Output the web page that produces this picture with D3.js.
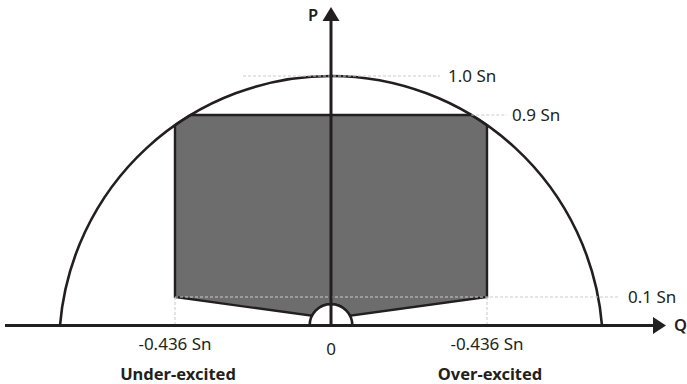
<!DOCTYPE html>
<html>
<head>
<meta charset="utf-8">
<script src="https://cdn.jsdelivr.net/npm/d3@7"></script>
<style>
  html, body { margin: 0; padding: 0; background: #fff; }
  svg { display: block; }
  text { font-family: "Noto Sans", "DejaVu Sans", sans-serif; fill: #231f20; }
</style>
</head>
<body>
<svg id="chart" width="687" height="384"></svg>
<script>
// ---- data ----
const pLevels = [1.0, 0.9, 0.1];
const pLabels = ["1.0 Sn", "0.9 Sn", "0.1 Sn"];
const qTicks = [-0.436, 0, 0.436];
const qLabels = ["-0.436 Sn", "0", "-0.436 Sn"];
const regionQ = [-0.436, 0.436];
const regionLabels = ["Under-excited", "Over-excited"];
const qLimit = 0.436;      // reactive power limit (Sn)
const pMax = 0.9;          // upper active power limit
const pMin = 0.1;          // lower active power limit
const holeP = 0.075;       // radius of small excluded semicircle
const slantTargetP = 0.025;// bottom edge slopes toward this P at Q=0

// ---- scales (schematic, piecewise) ----
const x = d3.scaleLinear().domain([-1, -0.436, 0, 0.436, 1]).range([60, 175, 331, 487, 602]);
const y = d3.scaleLinear().domain([0, 0.1, 0.9, 1.0]).range([325.5, 297, 115, 76]);

const svg = d3.select("#chart");
const ink = "#231f20";
const dashCol = "#cccccc";

// capability circle through (-1,0), (0,1), (1,0)
const cx = x(0);
const y0 = y(0), y1 = y(1);
const hx = x(1) - cx;
const cy = (hx * hx + y0 * y0 - y1 * y1) / (2 * (y0 - y1));
const R = cy - y1;

// gray operating region
const yTop = y(pMax);
const dxTop = Math.sqrt(R * R - (cy - yTop) * (cy - yTop));
const xL = x(-qLimit), xR = x(qLimit);
const ySideR = cy - Math.sqrt(R * R - (xR - cx) * (xR - cx));
const ySideL = cy - Math.sqrt(R * R - (xL - cx) * (xL - cx));
const yLow = y(pMin);
const r = y(0) - y(holeP);

function hit(ax, ay, bx, by) {
  const dx = bx - ax, dy = by - ay;
  const fx = ax - cx, fy = ay - y0;
  const a = dx * dx + dy * dy, b = 2 * (fx * dx + fy * dy), c = fx * fx + fy * fy - r * r;
  const t = (-b - Math.sqrt(b * b - 4 * a * c)) / (2 * a);
  return [ax + t * dx, ay + t * dy];
}
const hR = hit(xR, yLow, cx, y(slantTargetP));
const hL = hit(xL, yLow, cx, y(slantTargetP));

const regionD = `M${cx - dxTop},${yTop} L${cx + dxTop},${yTop} A${R},${R} 0 0 1 ${xR},${ySideR} L${xR},${yLow} L${hR[0]},${hR[1]} A${r},${r} 0 0 0 ${hL[0]},${hL[1]} L${xL},${yLow} L${xL},${ySideL} A${R},${R} 0 0 1 ${cx - dxTop},${yTop} Z`;

svg.append("path")
  .attr("d", regionD)
  .attr("fill", "#6d6d6d")
  .attr("stroke", ink)
  .attr("stroke-width", 2.4)
  .attr("stroke-linejoin", "miter");

// small excluded semicircle at the origin
svg.append("path")
  .attr("d", `M${cx - r},${y0} A${r},${r} 0 0 1 ${cx + r},${y0}`)
  .attr("fill", "#fff")
  .attr("stroke", ink)
  .attr("stroke-width", 2.6);

// big capability arc
svg.append("path")
  .attr("d", `M${x(-1)},${y0} A${R},${R} 0 0 1 ${x(1)},${y0}`)
  .attr("fill", "none")
  .attr("stroke", ink)
  .attr("stroke-width", 2.6);

// dashed guide lines
const dashG = svg.append("g").attr("stroke", dashCol).attr("stroke-width", 1.1).attr("stroke-dasharray", "3,2");
const guideStart = [cx - 88, cx + dxTop, xL];
const guideEnd = [440, 507, 618];
const labelX = [448, 512, 628];
pLevels.forEach((p, i) => {
  dashG.append("line").attr("x1", guideStart[i]).attr("x2", guideEnd[i]).attr("y1", y(p)).attr("y2", y(p));
});
regionQ.forEach(q => {
  dashG.append("line").attr("x1", x(q)).attr("x2", x(q)).attr("y1", yLow).attr("y2", y0);
});

// axes
svg.append("line").attr("x1", 5).attr("x2", 654).attr("y1", y0).attr("y2", y0)
  .attr("stroke", ink).attr("stroke-width", 3);
svg.append("line").attr("x1", cx).attr("x2", cx).attr("y1", y0).attr("y2", 20)
  .attr("stroke", ink).attr("stroke-width", 3);
svg.append("path").attr("d", `M${cx},7 L${cx - 8.5},21 L${cx + 8.5},21 Z`).attr("fill", ink);
svg.append("path").attr("d", `M666,${y0} L653,${y0 - 8.5} L653,${y0 + 8.5} Z`).attr("fill", ink);

// axis names
svg.append("text").attr("x", 313).attr("y", 21).attr("text-anchor", "middle")
  .style("font-size", "16.5px").style("font-weight", "600").text("P");
svg.append("text").attr("x", 674).attr("y", 331)
  .style("font-size", "16.5px").style("font-weight", "600").text("Q");

// P level labels
pLevels.forEach((p, i) => {
  svg.append("text").attr("x", labelX[i]).attr("y", y(p) + 6)
    .style("font-size", "17px").text(pLabels[i]);
});

// Q tick labels
qTicks.forEach((q, i) => {
  svg.append("text").attr("x", x(q)).attr("y", q === 0 ? 355 : 350).attr("text-anchor", "middle")
    .style("font-size", "17px").text(qLabels[i]);
});

// region labels
regionQ.forEach((q, i) => {
  svg.append("text").attr("x", x(q) + 3).attr("y", 380).attr("text-anchor", "middle")
    .style("font-size", "16.5px").style("font-weight", "700").text(regionLabels[i]);
});
</script>
</body>
</html>
